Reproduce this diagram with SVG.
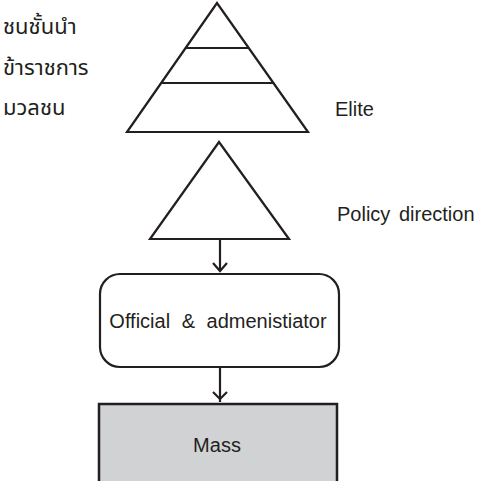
<svg xmlns="http://www.w3.org/2000/svg" width="480" height="481" viewBox="0 0 480 481">
<style>
.ln{fill:none;stroke:#231f20;stroke-width:2.2;stroke-linejoin:miter}
.t{font-family:"Liberation Sans",Arial,sans-serif;font-size:20px;fill:#231f20}
.th{font-family:"Noto Sans Thai","Noto Sans","DejaVu Sans",sans-serif;font-size:22px;fill:#231f20}
</style>
<rect width="480" height="481" fill="#fff"/>
<g id="labels-thai">
<text class="th" x="3" y="34">ชนชั้นนำ</text>
<text class="th" x="3" y="75">ข้าราชการ</text>
<text class="th" x="3" y="115">มวลชน</text>
</g>
<g id="elite-pyramid">
<polygon class="ln" points="217,3 127,132 308,132"/>
<line class="ln" x1="186" y1="48" x2="248" y2="48"/>
<line class="ln" x1="161" y1="83" x2="273" y2="83"/>
<text class="t" x="335" y="116">Elite</text>
</g>
<g id="policy-direction">
<polygon class="ln" points="219,142 150,239 289,239"/>
<text class="t" x="337" y="221" style="word-spacing:3px">Policy direction</text>
</g>
<g id="official">
<rect class="ln" x="100" y="274" width="239" height="93" rx="20" ry="20"/>
<text class="t" x="218" y="328" text-anchor="middle" style="word-spacing:6px">Official &amp; admenistiator</text>
</g>
<g id="mass">
<rect x="99" y="404" width="238" height="90" fill="#d1d2d4" stroke="#231f20" stroke-width="2.5"/>
<text class="t" x="217" y="452" text-anchor="middle">Mass</text>
</g>
<g id="connectors">
<line class="ln" x1="220" y1="239" x2="220" y2="271"/>
<polyline class="ln" points="213,263 220,271 227,263"/>
<line class="ln" x1="220" y1="367" x2="220" y2="402"/>
<polyline class="ln" points="213,392 220,399 227,392"/>
</g>
</svg>
